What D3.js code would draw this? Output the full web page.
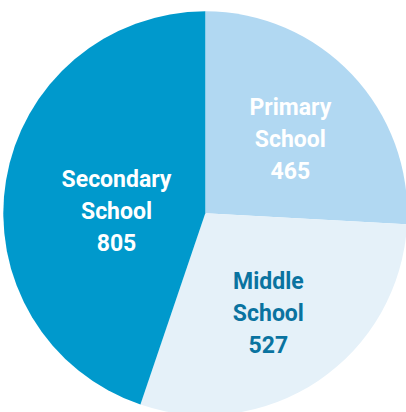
<!DOCTYPE html>
<html>
<head>
<meta charset="utf-8">
<script src="https://cdn.jsdelivr.net/npm/d3@7"></script>
<style>
  html, body { margin: 0; padding: 0; background: #fff; }
  svg { display: block; }
</style>
</head>
<body>
<svg id="chart"></svg>
<script>
const categories = ["Primary School", "Middle School", "Secondary School"];
const values = [465, 527, 805];
const colors = ["#b1d8f2", "#e5f1f9", "#0099cc"];
const textColors = ["#ffffff", "#0a73a0", "#ffffff"];

const width = 406;
const height = 412;
const cx = 205.3, cy = 213.3;
const radius = 202;

// label distance from centre + small nudge, tweaked per slice to sit like the original
const labelPlace = {
  "Primary School": { r: 113, dx: 3, dy: 3 },
  "Middle School": { r: 118, dx: -3, dy: 2 },
  "Secondary School": { r: 90, dx: 0, dy: 12 }
};

const svg = d3.select("#chart")
  .attr("width", width)
  .attr("height", height);

const g = svg.append("g")
  .attr("transform", `translate(${cx},${cy})`);

const pie = d3.pie()
  .sort(null)
  .value(d => d.value);

const data = categories.map((c, i) => ({ name: c, value: values[i], i: i }));
const arcs = pie(data);

const arc = d3.arc()
  .innerRadius(0)
  .outerRadius(radius);

g.selectAll("path")
  .data(arcs)
  .enter()
  .append("path")
  .attr("d", arc)
  .attr("fill", d => colors[d.data.i]);

const labels = g.selectAll(".label")
  .data(arcs)
  .enter()
  .append("text")
  .attr("class", "label")
  .attr("transform", d => {
    const p = labelPlace[d.data.name];
    const c = d3.arc().innerRadius(p.r).outerRadius(p.r).centroid(d);
    return `translate(${c[0] + p.dx},${c[1] + p.dy})`;
  })
  .attr("text-anchor", "middle")
  .style("font-family", "Roboto, sans-serif")
  .style("font-weight", "bold")
  .style("font-size", "23px")
  .attr("fill", d => textColors[d.data.i]);

labels.each(function (d) {
  const lines = d.data.name.split(" ").concat([String(d.data.value)]);
  const t = d3.select(this);
  lines.forEach((line, k) => {
    t.append("tspan")
      .attr("x", 0)
      .attr("y", (k - 1) * 32 + 8)
      .text(line);
  });
});
</script>
</body>
</html>
